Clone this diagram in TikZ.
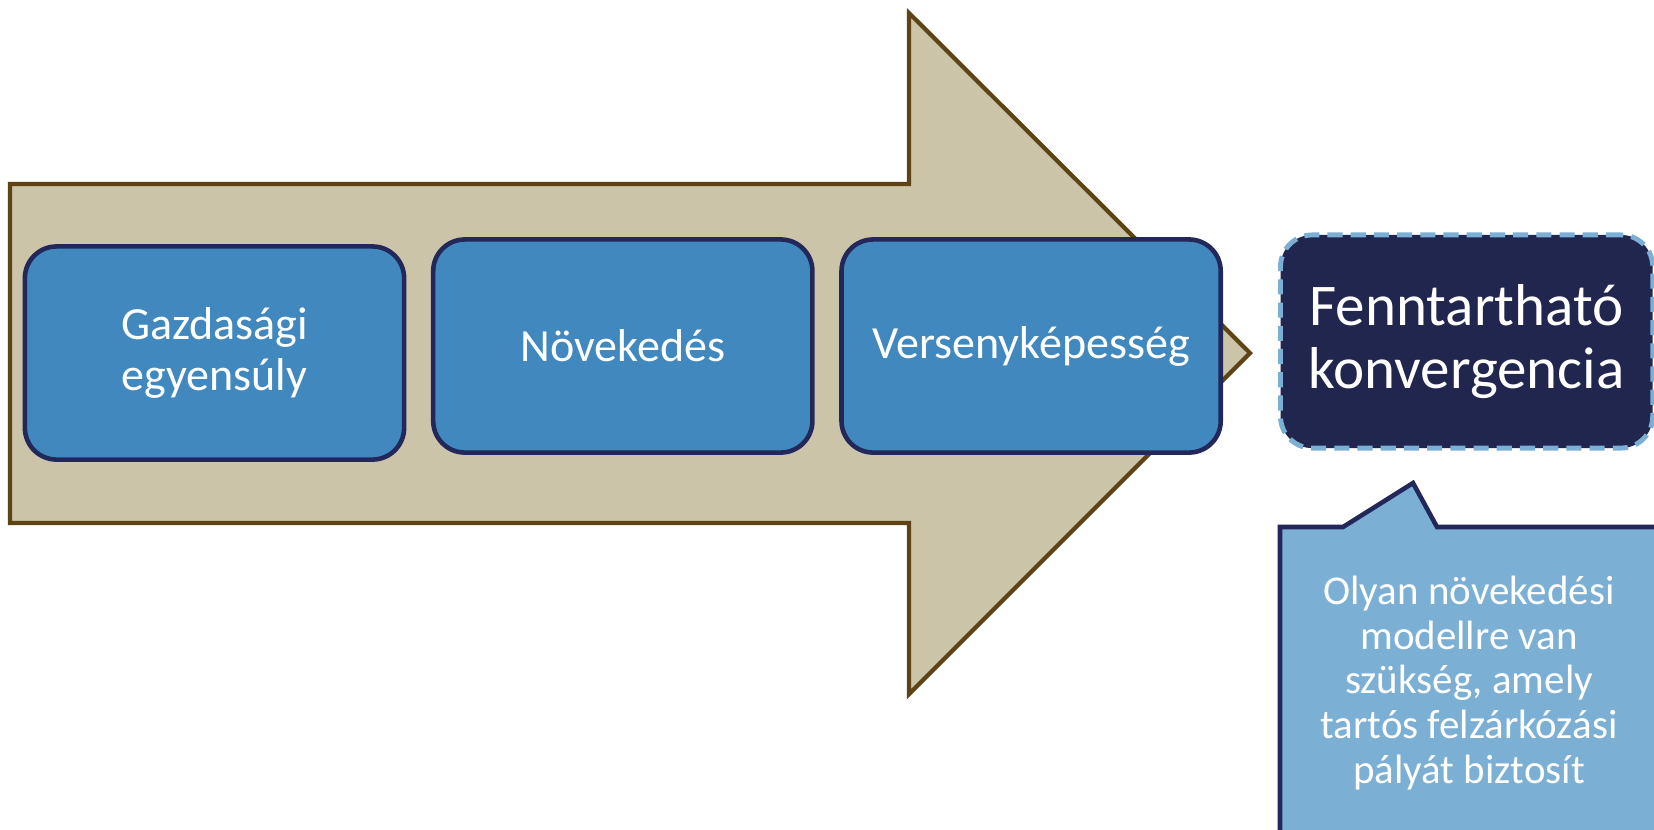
\documentclass[tikz,border=0pt]{standalone}
\usepackage{fontspec}
\setmainfont{Carlito}
\usetikzlibrary{positioning}
\definecolor{arrowfill}{HTML}{CBC4A8}
\definecolor{arrowline}{HTML}{5E4314}
\definecolor{boxfill}{HTML}{4088BE}
\definecolor{boxline}{HTML}{22285A}
\definecolor{darkfill}{HTML}{21264F}
\definecolor{lightblue}{HTML}{7BAFD4}
\tikzset{
  basic/.style  = {draw, text=white, align=center, inner sep=0pt},
  pillar/.style = {basic, fill=boxfill, draw=boxline, line width=1.3pt,
                   rounded corners=9pt, minimum width=3.79cm, minimum height=2.13cm,
                   font=\fontsize{13.1}{14.4}\selectfont},
  goal/.style   = {basic, fill=darkfill, draw=lightblue, line width=1.4pt,
                   dash pattern=on 4.3pt off 2.3pt, rounded corners=9pt,
                   minimum width=3.72cm, minimum height=2.13cm,
                   font=\fontsize{16.8}{18}\selectfont},
  note/.style   = {align=center, text=white, inner sep=0pt,
                   font=\fontsize{11.65}{12.7}\selectfont}
}
\begin{document}
\begin{tikzpicture}[x=0.01cm, y=-0.01cm]
	\clip (0,0) rectangle (1654,829);
	
	% the big arrow behind the pillars
	\filldraw[fill=arrowfill, draw=arrowline, line width=1.2pt, line join=miter]
	  (10,184) -- (909,184) -- (909,13) -- (1250,353) -- (909,694)
	  -- (909,523) -- (10,523) -- cycle;
	
	% the three pillars, relatively positioned
	\node[pillar] (p1) at (214.5,353) {Gazdasági\\egyensúly};
	\node[pillar, right=0.245cm of p1, yshift=0.07cm] (p2) {Növekedés};
	\node[pillar, right=0.245cm of p2] (p3) {Versenyképesség};
	
	% the goal
	\node[goal, right=0.55cm of p3, yshift=0.045cm] (conv) {Fenntartható\\konvergencia};
	
	% callout under the goal
	\filldraw[fill=lightblue, draw=boxline, line width=1.3pt, line join=miter]
	  (1280,840) -- (1280,527) -- (1343,527) -- (1413,483) -- (1437,527)
	  -- (1670,527) -- (1670,840) -- cycle;
	\node[note] (txt) at (1469,683) {Olyan növekedési\\modellre van\\szükség, amely\\tartós felzárkózási\\pályát biztosít};
	
\end{tikzpicture}
\end{document}
